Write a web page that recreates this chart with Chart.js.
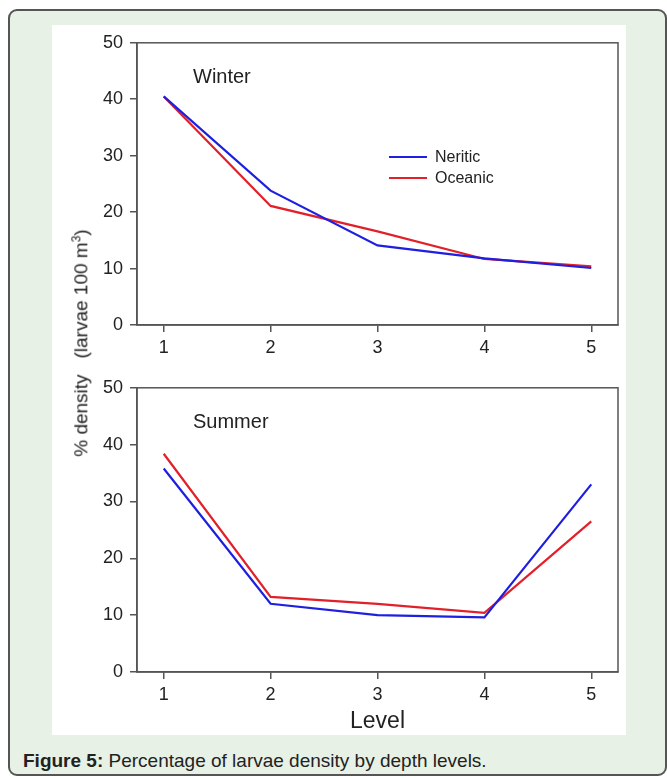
<!DOCTYPE html>
<html>
<head>
<meta charset="utf-8">
<script src="https://cdn.jsdelivr.net/npm/chart.js@4.4.0/dist/chart.umd.min.js"></script>
<style>
  body { margin: 0; background: #fff; font-family: "Liberation Sans", Arial, sans-serif; color: #222; }
  #box { position: absolute; left: 8px; top: 9px; width: 655px; height: 763px; border: 2px solid #555; border-radius: 9px; background: #e7f1e6; }
  #panel { position: absolute; left: 52px; top: 25px; width: 574px; height: 710px; background: #fff; }
  canvas { position: absolute; left: 0; }
  #c1 { top: 0; }
  #c2 { top: 345px; }
  #ytitle { position: absolute; left: 29px; top: 318px; transform: translate(-50%, -50%) rotate(-90deg); white-space: pre; font-size: 19px; }
  #ytitle sup { font-size: 12px; }
  #legend { position: absolute; left: 337px; top: 121px; font-size: 16px; }
  .row { display: flex; align-items: center; height: 21px; }
  .sw { width: 38px; height: 2px; margin-right: 8px; }
  #caption { position: absolute; left: 23px; top: 750px; font-size: 19px; }
</style>
</head>
<body>
<div id="box"></div>
<div id="panel">
  <canvas id="c1" width="574" height="345"></canvas>
  <canvas id="c2" width="574" height="365"></canvas>
  <div id="ytitle">% density   (larvae 100 m<sup>3</sup>)</div>
  <div id="legend"></div>
</div>
<div id="caption"><b>Figure 5:</b> Percentage of larvae density by depth levels.</div>
<script>
// depth levels on the x axis
const levels = [1, 2, 3, 4, 5];
const yTicks = [0, 10, 20, 30, 40, 50];

// % density
const winterNeritic = [40.5, 23.8, 14.1, 11.8, 10.1];
const winterOceanic = [40.5, 21.1, 16.6, 11.7, 10.4];
const summerNeritic = [35.8, 12.0, 10.0, 9.6, 33.0];
const summerOceanic = [38.4, 13.2, 12.0, 10.4, 26.5];

const seriesNames = ['Neritic', 'Oceanic'];
const seriesColors = ['#1f1fe0', '#e2202a'];

const axisColor = '#555';
const textColor = '#222';
const fontFamily = '"Liberation Sans", Arial, sans-serif';

// frame round the plot area + season label
const framePlugin = {
    id: 'frame',
    beforeDatasetsDraw(chart, args, opts) {
        const a = chart.chartArea;
        const ctx = chart.ctx;
        ctx.save();
        ctx.strokeStyle = axisColor;
        ctx.lineWidth = 1.5;
        ctx.strokeRect(a.left, a.top, a.right - a.left, a.bottom - a.top);
        ctx.fillStyle = textColor;
        ctx.font = '20px ' + fontFamily;
        ctx.textBaseline = 'middle';
        ctx.fillText(opts.label, a.left + 56, a.top + 35);
        ctx.restore();
    }
};

function toPoints(values) {
    return levels.map((lv, i) => ({ x: lv, y: values[i] }));
}

function makeChart(id, neritic, oceanic, season, xTitle, xHeight) {
    const ctx = document.getElementById(id).getContext('2d');
    return new Chart(ctx, {
        type: 'line',
        data: {
            datasets: [neritic, oceanic].map((vals, i) => ({
                label: seriesNames[i],
                data: toPoints(vals),
                borderColor: seriesColors[i],
                borderWidth: 2.2,
                pointRadius: 0,
                tension: 0
            }))
        },
        options: {
            responsive: false,
            animation: false,
            devicePixelRatio: 1,
            layout: { padding: { left: 45, right: 8, top: 13, bottom: 0 } },
            plugins: {
                legend: { display: false },
                tooltip: { enabled: false },
                frame: { label: season }
            },
            scales: {
                x: {
                    type: 'linear',
                    min: 0.75,
                    max: 5.25,
                    afterBuildTicks: s => { s.ticks = levels.map(v => ({ value: v })); },
                    afterFit: s => { s.height = xHeight; },
                    ticks: { color: textColor, font: { size: 18, family: fontFamily }, padding: 5 },
                    grid: { drawOnChartArea: false, tickLength: 7, color: axisColor, lineWidth: 1.5 },
                    border: { color: axisColor, width: 1.5 },
                    title: {
                        display: !!xTitle,
                        text: xTitle,
                        color: textColor,
                        padding: { top: 0, bottom: 0 },
                        font: { size: 23, family: fontFamily }
                    }
                },
                y: {
                    min: 0,
                    max: 50,
                    afterBuildTicks: s => { s.ticks = yTicks.map(v => ({ value: v })); },
                    afterFit: s => { s.width = 40; },
                    ticks: { color: textColor, font: { size: 18, family: fontFamily }, padding: 7 },
                    grid: { drawOnChartArea: false, tickLength: 7, color: axisColor, lineWidth: 1.5 },
                    border: { color: axisColor, width: 1.5 }
                }
            }
        },
        plugins: [framePlugin]
    });
}

makeChart('c1', winterNeritic, winterOceanic, 'Winter', '', 45);
makeChart('c2', summerNeritic, summerOceanic, 'Summer', 'Level', 63);

// legend for the top panel
const legend = document.getElementById('legend');
seriesNames.forEach((name, i) => {
    const row = document.createElement('div');
    row.className = 'row';
    row.innerHTML = `<span class="sw" style="background:${seriesColors[i]}"></span>${name}`;
    legend.appendChild(row);
});
</script>
</body>
</html>
